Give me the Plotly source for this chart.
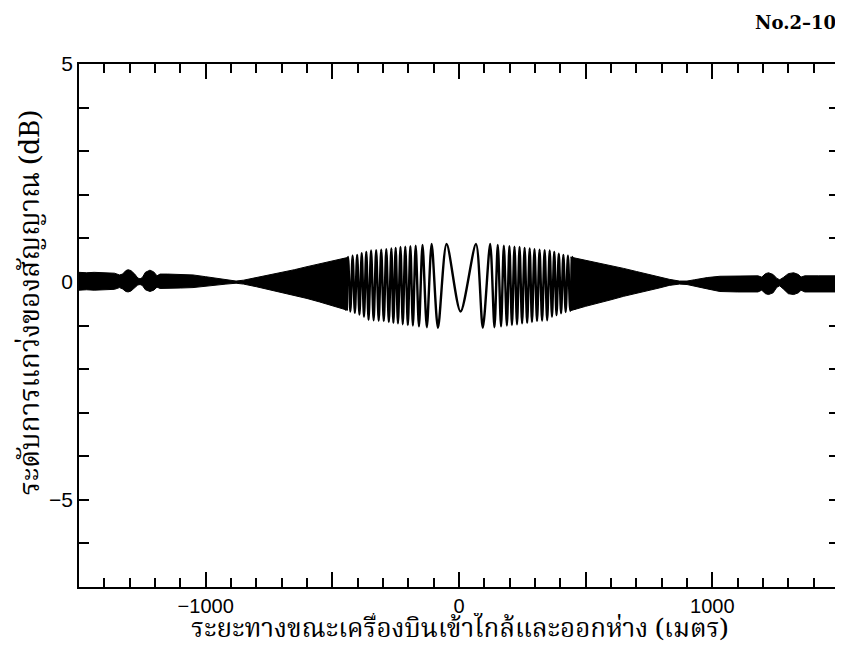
import plotly.graph_objects as go

# Resolved central oscillation: extreme points (distance m, level dB)
osc_x = [-456, -447, -438, -429, -420, -411, -402, -393, -384, -375, -366,
         -357, -347, -337, -327, -317, -307, -297, -287, -277, -267, -259, -250, -241, -231,
         -222, -212, -202, -192, -182, -171, -158, -144, -127, -108, -83, -49, 6, 67, 94, 123,
         140, 153, 166, 177, 189, 199, 209, 219, 229, 239, 249, 259, 269, 279, 288, 298, 308,
         318, 328, 338, 348, 358, 367, 376, 385, 394, 403, 412, 421, 430, 439, 448, 457]
osc_y = [0.54, -0.64, 0.57, -0.68, 0.60, -0.71, 0.62, -0.75, 0.66, -0.80, 0.69,
         -0.87, 0.72, -0.88, 0.73, -0.89, 0.74, -0.90, 0.75, -0.92, 0.77, -0.94, 0.78, -0.95, 0.80,
         -0.97, 0.81, -0.99, 0.82, -1.00, 0.83, -1.02, 0.85, -1.04, 0.87, -1.05, 0.87, -0.68, 0.87, -1.05, 0.87,
         -1.04, 0.85, -1.02, 0.83, -1.00, 0.82, -0.99, 0.81, -0.97, 0.80, -0.95, 0.78, -0.94, 0.77, -0.92, 0.75, -0.90,
         0.74, -0.89, 0.73, -0.88, 0.72, -0.80, 0.69, -0.76, 0.65, -0.72, 0.62, -0.69, 0.60, -0.66, 0.57, -0.63]

# Dense (unresolved) oscillation band: envelope, left side
left_x = [-1500, -1470, -1440, -1400, -1360, -1340, -1328, -1315, -1306, -1295, -1280, -1268, -1259,
          -1250, -1238, -1220, -1205, -1192, -1180, -1150, -1100, -1050, -1000, -960, -920, -880,
          -850, -800, -750, -700, -650, -600, -550, -500, -440]
left_up = [0.22, 0.21, 0.22, 0.21, 0.20, 0.16, 0.18, 0.26, 0.28, 0.26, 0.18, 0.09, 0.07,
           0.10, 0.22, 0.27, 0.23, 0.14, 0.18, 0.18, 0.17, 0.16, 0.12, 0.09, 0.05, 0.02,
           0.04, 0.10, 0.15, 0.21, 0.28, 0.35, 0.42, 0.48, 0.56]
left_lo = [-0.19, -0.18, -0.19, -0.18, -0.17, -0.13, -0.16, -0.22, -0.23, -0.21, -0.14, -0.07, -0.06,
           -0.08, -0.18, -0.22, -0.19, -0.12, -0.15, -0.15, -0.14, -0.13, -0.10, -0.08, -0.05, -0.03,
           -0.05, -0.11, -0.17, -0.24, -0.31, -0.38, -0.46, -0.54, -0.65]

# right side
right_x = [440, 500, 550, 600, 650, 700, 750, 790, 830, 870, 900, 930, 980, 1030, 1100,
           1180, 1195, 1210, 1222, 1240, 1255, 1266, 1280, 1300, 1321, 1340, 1350, 1365, 1420, 1500]
right_up = [0.57, 0.50, 0.44, 0.38, 0.31, 0.24, 0.17, 0.12, 0.06, 0.02, 0.02, 0.05, 0.10,
            0.13, 0.14, 0.14, 0.11, 0.19, 0.21, 0.17, 0.08, 0.05, 0.10, 0.19, 0.21, 0.17, 0.11, 0.14, 0.14, 0.14]
right_lo = [-0.66, -0.56, -0.48, -0.41, -0.33, -0.26, -0.19, -0.14, -0.08, -0.05, -0.06,
            -0.09, -0.16, -0.22, -0.23, -0.23, -0.19, -0.27, -0.29, -0.25, -0.12, -0.09, -0.16, -0.27,
            -0.29, -0.25, -0.19, -0.23, -0.23, -0.23]

x_tickvals = [-1500, -1000, -500, 0, 500, 1000, 1500]
x_ticktext = ["", "\u22121000", "", "0", "", "1000", ""]
y_tickvals = [-7, -6, -5, -4, -3, -2, -1, 0, 1, 2, 3, 4, 5]
y_ticktext = ["", "", "\u22125", "", "", "", "", "0", "", "", "", "", "5"]

THAI = "Noto Serif Thai, Norasi, Kinnari, Noto Sans Thai, serif"
NUM = "Liberation Sans, Arial, sans-serif"

fig = go.Figure()
fig.add_trace(go.Scatter(x=left_x + left_x[::-1], y=left_up + left_lo[::-1], fill="toself",
                         fillcolor="black", mode="lines", line=dict(color="black", width=1),
                         hoverinfo="skip", showlegend=False))
fig.add_trace(go.Scatter(x=right_x + right_x[::-1], y=right_up + right_lo[::-1], fill="toself",
                         fillcolor="black", mode="lines", line=dict(color="black", width=1),
                         hoverinfo="skip", showlegend=False))
fig.add_trace(go.Scatter(x=osc_x, y=osc_y, mode="lines",
                         line=dict(color="black", width=2.4, shape="spline", smoothing=0.8),
                         showlegend=False))
fig.add_trace(go.Scatter(x=[None], y=[None], xaxis="x2", yaxis="y2", showlegend=False))

axcommon = dict(showline=True, linecolor="black", linewidth=1.8, showgrid=False, zeroline=False,
                ticks="inside", tickcolor="black", tickwidth=1.5)

fig.update_layout(
    width=835, height=643,
    margin=dict(l=71, r=4, t=56, b=64),
    paper_bgcolor="white", plot_bgcolor="white",
    xaxis=dict(range=[-1500, 1500], tickvals=x_tickvals, ticktext=x_ticktext, ticklen=15,
               minor=dict(dtick=100, tick0=0, ticklen=9, ticks="inside", tickcolor="black", tickwidth=1.5),
               tickfont=dict(family=NUM, size=20, color="black"), **axcommon),
    xaxis2=dict(range=[-1500, 1500], overlaying="x", side="top", tickvals=x_tickvals, ticklen=15,
                showticklabels=False,
                minor=dict(dtick=100, tick0=0, ticklen=9, ticks="inside", tickcolor="black", tickwidth=1.5),
                **axcommon),
    yaxis=dict(range=[-7, 5], tickvals=y_tickvals, ticktext=y_ticktext, ticklen=10,
               tickfont=dict(family=NUM, size=21, color="black"), **axcommon),
    yaxis2=dict(range=[-7, 5], overlaying="y", side="right", tickvals=y_tickvals, ticklen=10,
                showticklabels=False, **axcommon),
    annotations=[
        dict(text="<b>No.2\u201310</b>", xref="paper", yref="paper", x=0.9987, y=1.080,
             xanchor="right", yanchor="middle", showarrow=False,
             font=dict(family="DejaVu Serif, Liberation Serif, serif", size=18, color="black")),
        dict(text="ระยะทางขณะเครื่องบินเข้าใกล้และออกห่าง (เมตร)", xref="paper", yref="paper",
             x=0.501, y=-0.083, xanchor="center", yanchor="middle", showarrow=False,
             height=34, valign="middle",
             font=dict(family=THAI, size=26, color="black")),
        dict(text="ระดับการแกว่งของสัญญาณ (dB)", xref="paper", yref="paper",
             x=-0.063, y=0.543, xanchor="center", yanchor="middle", showarrow=False, textangle=-90,
             font=dict(family=THAI, size=28, color="black")),
    ],
)

fig.write_html("out.html")
